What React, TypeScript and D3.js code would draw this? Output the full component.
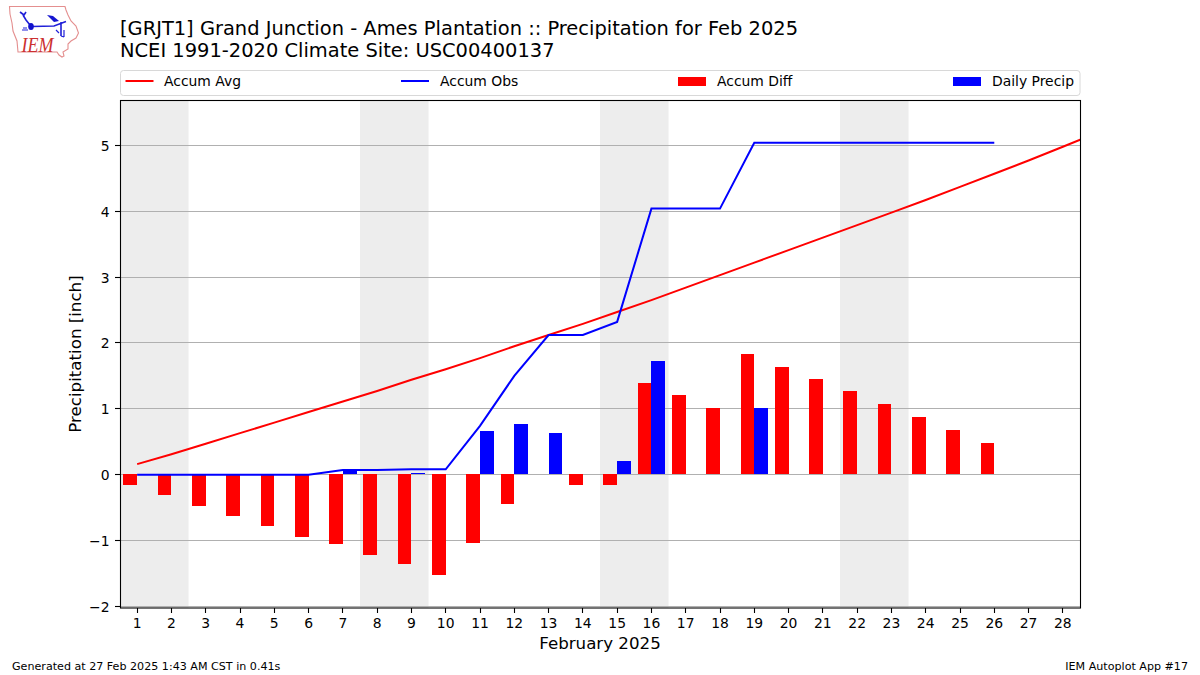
import React, { useEffect, useRef } from "react";
import * as d3 from "d3";

const days = d3.range(1, 29);
const accumAvg = [0.16,0.31,0.47,0.63,0.79,0.95,1.11,1.27,1.44,1.6,1.77,1.95,2.12,2.29,2.47,2.65,2.84,3.03,3.22,3.41,3.6,3.79,3.98,4.17,4.37,4.57,4.77,4.98,5.19];
const accumObs = [0,0,0,0,0,0,0.07,0.07,0.08,0.08,0.74,1.5,2.12,2.12,2.32,4.04,4.04,4.04,5.04,5.04,5.04,5.04,5.04,5.04,5.04,5.04];
const accumDiff = [-0.16,-0.31,-0.48,-0.63,-0.78,-0.95,-1.05,-1.21,-1.36,-1.52,-1.04,-0.45,0,-0.16,-0.15,1.38,1.2,1.01,1.83,1.63,1.44,1.26,1.07,0.87,0.67,0.47];
const dailyPrecip = [0,0,0,0,0,0,0.07,0,0.01,0,0.66,0.76,0.63,0,0.2,1.72,0,0,1.0,0,0,0,0,0,0,0];
const weekendSpans = [[0.5,2.5],[7.5,9.5],[14.5,16.5],[21.5,23.5]];
const yTicks = [-2,-1,0,1,2,3,4,5];
const titleLines = ["[GRJT1] Grand Junction - Ames Plantation :: Precipitation for Feb 2025","NCEI 1991-2020 Climate Site: USC00400137"];

const FONT = "'DejaVu Sans', sans-serif";
const T = 100.5, B = 608;

export default function App() {
  const ref = useRef<SVGSVGElement>(null);
  useEffect(() => {
    const svg = d3.select(ref.current);
    svg.selectAll("*").remove();
    const x = d3.scaleLinear().domain([0.5, 28.5]).range([120, 1080]);
    const y = d3.scaleLinear().domain([-2.0255, 5.682]).range([B, T]);
    const yBar = (d: number) => y(d) - 0.5;
    const bw = x(1.4) - x(1);

    svg.append("defs").append("clipPath").attr("id", "plot").append("rect")
      .attr("x", 120.5).attr("y", T).attr("width", 960).attr("height", B - T);
    const g = svg.append("g").attr("clip-path", "url(#plot)");

    g.selectAll(".wk").data(weekendSpans).join("rect")
      .attr("x", d => x(d[0])).attr("width", d => x(d[1]) - x(d[0]))
      .attr("y", T).attr("height", B - T).attr("fill", "#ededed");
    g.selectAll(".gr").data(yTicks).join("line")
      .attr("x1", 120).attr("x2", 1081)
      .attr("y1", d => Math.round(y(d) - 0.5) + 0.5).attr("y2", d => Math.round(y(d) - 0.5) + 0.5)
      .attr("stroke", "#b0b0b0").attr("stroke-width", 1.1);

    g.selectAll(".diff").data(accumDiff).join("rect")
      .attr("x", (_, i) => x(days[i]) - bw).attr("width", bw)
      .attr("y", d => yBar(Math.max(d, 0)))
      .attr("height", d => Math.abs(y(d) - y(0)) + (d < 0 ? 0.7 : 0))
      .attr("fill", "#ff0000").attr("shape-rendering", "crispEdges");
    g.selectAll(".daily").data(dailyPrecip).join("rect")
      .attr("x", (_, i) => x(days[i])).attr("width", bw)
      .attr("y", d => yBar(d)).attr("height", d => y(0) - y(d))
      .attr("fill", "#0000ff").attr("shape-rendering", "crispEdges");

    const line = d3.line<number>().x((_, i) => x(i + 1)).y(d => y(d));
    g.append("path").attr("d", line(accumAvg)).attr("fill", "none").attr("stroke", "#ff0000").attr("stroke-width", 2);
    g.append("path").attr("d", line(accumObs)).attr("fill", "none").attr("stroke", "#0000ff").attr("stroke-width", 2);

    svg.append("rect").attr("x", 120.5).attr("y", T).attr("width", 960).attr("height", B - T)
      .attr("fill", "none").attr("stroke", "#000").attr("stroke-width", 1.1);

    const text = (tx: number, ty: number, s: string, size: number, anchor = "start") =>
      svg.append("text").attr("x", tx).attr("y", ty).attr("font-family", FONT).attr("font-size", size)
        .attr("text-anchor", anchor).attr("fill", "#000").text(s);

    days.forEach(d => {
      const px = Math.round(x(d) - 0.5) + 0.5;
      svg.append("line").attr("x1", px).attr("x2", px).attr("y1", B).attr("y2", B + 5).attr("stroke", "#000").attr("stroke-width", 1.1);
      text(x(d), 627.5, String(d), 13.9, "middle");
    });
    yTicks.forEach(t => {
      const py = Math.round(y(t) - 0.5) + 0.5;
      svg.append("line").attr("x1", 115).attr("x2", 120).attr("y1", py).attr("y2", py).attr("stroke", "#000").attr("stroke-width", 1.1);
      text(109.5, py + 5, t < 0 ? "\u2212" + Math.abs(t) : String(t), 13.9, "end");
    });

    text(600, 649, "February 2025", 16.67, "middle");
    svg.append("text").attr("transform", "translate(80.5,354) rotate(-90)").attr("text-anchor", "middle")
      .attr("font-family", FONT).attr("font-size", 16.67).attr("fill", "#000").text("Precipitation [inch]");

    text(120, 35, titleLines[0], 19.45);
    text(120, 57, titleLines[1], 19.45);

    text(12, 670, "Generated at 27 Feb 2025 1:43 AM CST in 0.41s", 11.12);
    text(1188, 670, "IEM Autoplot App #17", 11.12, "end");

    // legend
    svg.append("rect").attr("x", 120.5).attr("y", 70.5).attr("width", 959.5).attr("height", 25).attr("rx", 3)
      .attr("fill", "#fff").attr("stroke", "#d8d8d8").attr("stroke-width", 1);
    const legendLine = (x1: number, c: string, s: string, tx: number) => {
      svg.append("line").attr("x1", x1).attr("x2", x1 + 28).attr("y1", 81).attr("y2", 81).attr("stroke", c).attr("stroke-width", 2);
      text(tx, 86, s, 13.9);
    };
    legendLine(125.5, "#ff0000", "Accum Avg", 164);
    legendLine(401, "#0000ff", "Accum Obs", 440);
    const legendBar = (x1: number, c: string, s: string, tx: number) => {
      svg.append("rect").attr("x", x1).attr("y", 77).attr("width", 28).attr("height", 9).attr("fill", c);
      text(tx, 86, s, 13.9);
    };
    legendBar(678, "#ff0000", "Accum Diff", 717);
    legendBar(953, "#0000ff", "Daily Precip", 992);

    // logo
    const logo = svg.append("g");
    logo.append("path").attr("fill", "none").attr("stroke", "#e48f8f").attr("stroke-width", 1.1)
      .attr("d", "M9.5 6.5 L65 6.5 L66 10 L68 15 L71 21 L76 26 L78.5 33 L76 38 L71 41 L68 44 L68 49 L63 52 L64 56 L62 57 L59 55 L57 52 L18 52 L17 41 L13 31 L12 23 L10 14 Z");
    logo.append("path").attr("fill", "none").attr("stroke", "#2020d8").attr("stroke-width", 1.6)
      .attr("d", "M32 26.5 L54 26 L66 21.5 M61 22 L61 36 M23 15 L26 20 L30 25 M20 12 L24 15 L26 12");
    logo.append("path").attr("fill", "#1515d0").attr("d", "M47 15 L53 16 L59 21 L54 22 Z");
    logo.append("path").attr("fill", "none").attr("stroke", "#2020d8").attr("stroke-width", 1.2)
      .attr("d", "M56 30 L59 33 M64 30 L64 37 M61 36 L64 37 M23 28 L27 28 M22 30 L28 30");
    logo.append("ellipse").attr("cx", 31).attr("cy", 26.5).attr("rx", 2.8).attr("ry", 3.5).attr("fill", "#1111cc");
    logo.append("text").attr("x", 21.5).attr("y", 51.5).attr("font-family", "'Liberation Serif', serif").attr("font-style", "italic")
      .attr("font-size", 22).attr("textLength", 32).attr("lengthAdjust", "spacingAndGlyphs").attr("fill", "#cc3030").text("IEM");
  }, []);
  return <svg ref={ref} width={1200} height={675} style={{ position: "absolute", left: 0, top: 0, background: "#fff" }} />;
}
